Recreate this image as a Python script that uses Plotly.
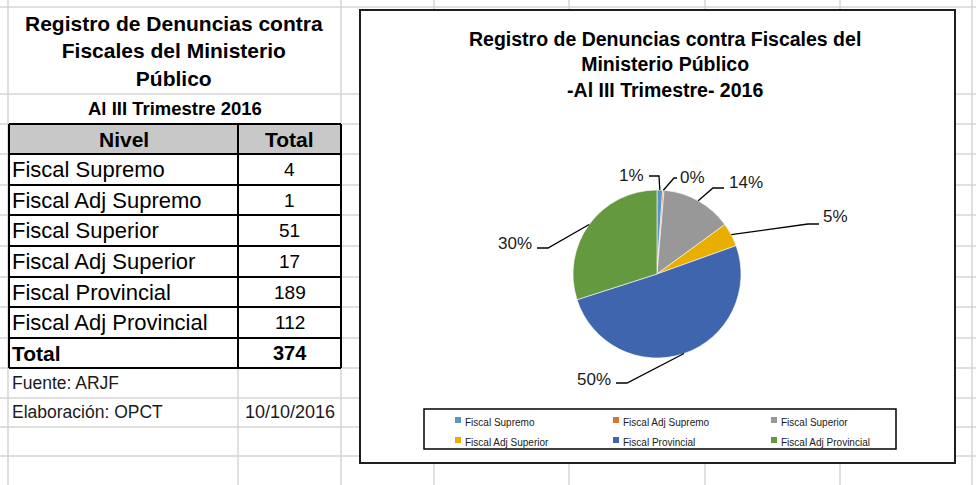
import math
import plotly.graph_objects as go

# ---------------- data ----------------
niveles = ["Fiscal Supremo", "Fiscal Adj Supremo", "Fiscal Superior",
           "Fiscal Adj Superior", "Fiscal Provincial", "Fiscal Adj Provincial"]
totales = [4, 1, 51, 17, 189, 112]
total_label = "Total"
total_general = 374
etiquetas_pct = ["1%", "0%", "14%", "5%", "50%", "30%"]
colores = ["#5B93CB", "#DD7330", "#989898", "#E8AE00", "#3E65AE", "#64993F"]

tabla_titulo = "Registro de Denuncias contra<br>Fiscales del Ministerio<br>Público"
tabla_subtitulo = "Al III Trimestre 2016"
encabezados = ["Nivel", "Total"]
fuente = "Fuente: ARJF"
elaboracion = "Elaboración: OPCT"
fecha = "10/10/2016"
grafico_titulo = "Registro de Denuncias contra Fiscales del<br>Ministerio Público<br>-Al III Trimestre- 2016"

# ---------------- layout helpers ----------------
W, H = 976, 485
FONT = "Liberation Sans, Arial, sans-serif"


def X(px):
    return px / W


def Y(py):
    return 1 - py / H


shapes = []
annotations = []


def hline(y, x0, x1, color, width, layer="above"):
    shapes.append(dict(type="line", xref="paper", yref="paper", x0=X(x0), x1=X(x1),
                       y0=Y(y), y1=Y(y), line=dict(color=color, width=width), layer=layer))


def vline(x, y0, y1, color, width, layer="above"):
    shapes.append(dict(type="line", xref="paper", yref="paper", x0=X(x), x1=X(x),
                       y0=Y(y0), y1=Y(y1), line=dict(color=color, width=width), layer=layer))


def rect(x0, y0, x1, y1, fill, line_color=None, width=0, layer="above"):
    shapes.append(dict(type="rect", xref="paper", yref="paper", x0=X(x0), x1=X(x1),
                       y0=Y(y1), y1=Y(y0), fillcolor=fill,
                       line=dict(color=line_color or fill, width=width), layer=layer))


def text(s, x, y, size, bold=False, xanchor="center", color="#000000"):
    annotations.append(dict(text=f"<b>{s}</b>" if bold else s, x=X(x), y=Y(y),
                            xref="paper", yref="paper", xanchor=xanchor, yanchor="middle",
                            showarrow=False, font=dict(family=FONT, size=size, color=color)))


# ---------------- spreadsheet grid ----------------
GRID = "#D6D6D6"
grid_rows = [7, 94, 124, 154, 185, 215, 246, 277, 307, 338, 368, 398, 427, 456]
grid_cols = [8, 341, 434, 569, 705, 840, 972]
for gy in grid_rows:
    hline(gy, 0, W, GRID, 1.5, layer="below")
for gx in grid_cols:
    vline(gx, 0, H, GRID, 1.5, layer="below")
vline(238, 368, H, GRID, 1.5, layer="below")

# ---------------- table ----------------
TL, TM, TR = 9, 238, 341
row_top = [124, 154, 185, 215, 246, 277, 307, 338, 368]
rect(TL, 124, TR, 154, "#C8C8C8", layer="below")
for ry in row_top:
    hline(ry, TL, TR, "#000000", 2)
for vx in (TL, TM, TR):
    vline(vx, 124, 368, "#000000", 2)

text(tabla_titulo, 174, 51, 21, bold=True)
text(tabla_subtitulo, 175, 109, 18.5, bold=True)
text(encabezados[0], (TL + TM) / 2, 139, 21, bold=True)
text(encabezados[1], (TM + TR) / 2, 139, 21, bold=True)
for i, (n, v) in enumerate(zip(niveles, totales)):
    cy = (row_top[i + 1] + row_top[i + 2]) / 2
    text(n, 10, cy, 22, xanchor="left")
    text(str(v), (TM + TR) / 2, cy, 19)
cy = (row_top[7] + row_top[8]) / 2
text(total_label, 10, cy, 21, bold=True, xanchor="left")
text(str(total_general), (TM + TR) / 2, cy, 20, bold=True)
text(fuente, 10, 383, 17.5, xanchor="left", color="#1a1a1a")
text(elaboracion, 10, 412, 17.5, xanchor="left", color="#1a1a1a")
text(fecha, (TM + TR) / 2, 412, 18, color="#1a1a1a")

# ---------------- chart box ----------------
rect(360, 10, 955, 463, "#FFFFFF", "#1E1E1E", 2, layer="below")
text(grafico_titulo, 665, 65, 19.5, bold=True)

# pie geometry (pixels)
CX, CY, R = 657, 274, 84

# leader lines + percentage labels
label_pos = [(646, 175, "right"), (678, 177, "left"), (727, 182, "left"),
             (821, 217, "left"), (613, 379, "right"), (534, 243, "right")]
line_start = [(649, 176), (677, 178), (724, 188), (819, 224), (616, 383), (537, 248)]
elbow_len = [10, 3, 11, 11, 11, 11]
tot = sum(totales)
cum = 0
for i, v in enumerate(totales):
    th = 2 * math.pi * (cum + v / 2) / tot
    cum += v
    ax, ay = CX + R * math.sin(th), CY - R * math.cos(th)
    sx, sy = line_start[i]
    ex = sx + elbow_len[i] if ax > sx else sx - elbow_len[i]
    path = f"M {X(sx)} {Y(sy)} L {X(ex)} {Y(sy)} L {X(ax)} {Y(ay)}"
    shapes.append(dict(type="path", xref="paper", yref="paper", path=path,
                       line=dict(color="#000000", width=1.3), layer="above"))
    lx, ly, anc = label_pos[i]
    text(etiquetas_pct[i], lx, ly, 17, xanchor=anc, color="#1a1a1a")

# legend (manual, Excel style)
rect(424, 409, 896, 449, "#FFFFFF", "#000000", 1.5, layer="below")
sq_x = [455, 613, 771]
tx_x = [463, 621, 779]
row_y = [422, 442]
for i, n in enumerate(niveles):
    c, r = i % 3, i // 3
    rect(sq_x[c], row_y[r] - 5, sq_x[c] + 6, row_y[r] + 1, colores[i])
    text(n, tx_x[c], row_y[r], 10, xanchor="left", color="#1a1a1a")

fig = go.Figure(go.Pie(
    labels=niveles, values=totales, sort=False, direction="clockwise", rotation=0,
    marker=dict(colors=colores, line=dict(color="#FFFFFF", width=0.6)),
    textinfo="none", showlegend=False,
    domain=dict(x=[X(CX - R), X(CX + R)], y=[Y(CY + R), Y(CY - R)]),
))

fig.update_layout(
    width=W, height=H, margin=dict(l=0, r=0, t=0, b=0),
    paper_bgcolor="#FFFFFF", plot_bgcolor="#FFFFFF",
    shapes=shapes, annotations=annotations, showlegend=False,
    font=dict(family=FONT),
)

fig.write_html("out.html", config={"displayModeBar": False},
               post_script="document.body.style.margin='0';document.body.style.overflow='hidden';")
